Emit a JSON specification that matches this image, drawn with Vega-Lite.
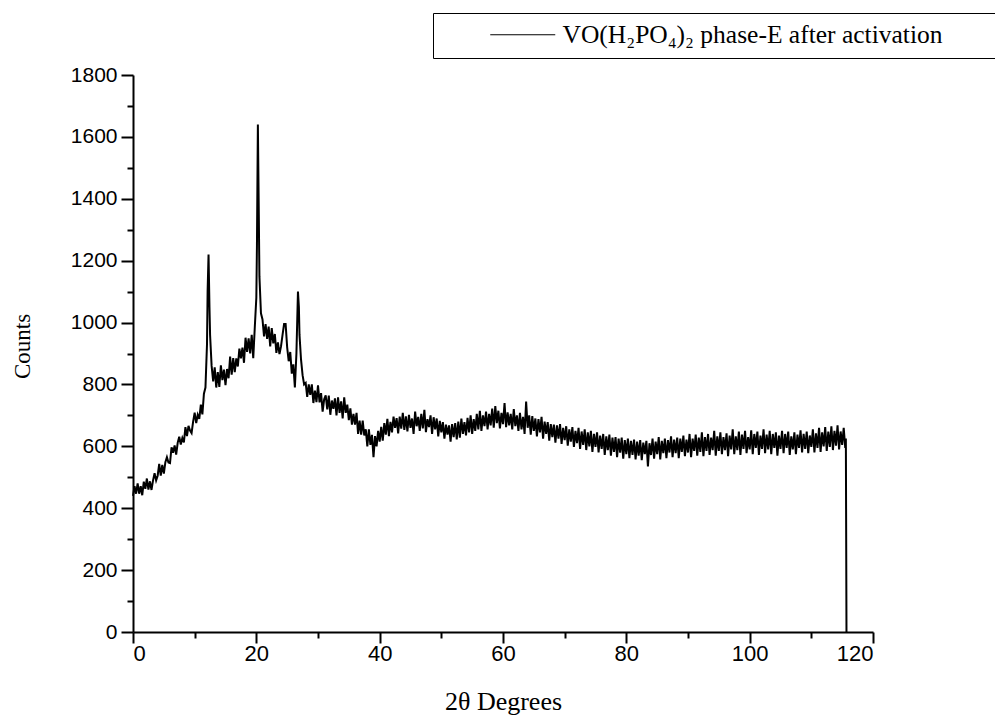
{
"$schema": "https://vega.github.io/schema/vega-lite/v6.json",
"width": 740, "height": 557,
"autosize": {"type": "none"},
"padding": {"left": 133, "top": 75, "right": 122, "bottom": 89},
"background": "white",
"config": {
  "view": {"stroke": null},
  "axis": {"domainColor": "black", "domainWidth": 2, "tickColor": "black", "tickWidth": 2, "labelColor": "black", "labelFont": "Liberation Sans", "labelFontSize": 21, "titleFont": "Liberation Serif", "titleFontWeight": "normal", "titleColor": "black", "grid": false}
},
"layer": [
{
"data": {"values": [
{"x":0,"y":440},{"x":0.25,"y":471},{"x":0.5,"y":447},{"x":0.75,"y":480},{"x":1,"y":447},{"x":1.25,"y":471},{"x":1.5,"y":442},{"x":1.75,"y":486},
{"x":2,"y":463},{"x":2.25,"y":496},{"x":2.5,"y":460},{"x":2.75,"y":487},{"x":3,"y":459},{"x":3.25,"y":490},{"x":3.5,"y":513},{"x":3.75,"y":490},
{"x":4,"y":505},{"x":4.25,"y":543},{"x":4.5,"y":505},{"x":4.75,"y":540},{"x":5,"y":512},{"x":5.25,"y":549},{"x":5.5,"y":565},{"x":5.75,"y":548},
{"x":6,"y":546},{"x":6.25,"y":597},{"x":6.5,"y":579},{"x":6.75,"y":603},{"x":7,"y":573},{"x":7.25,"y":612},{"x":7.5,"y":631},{"x":7.75,"y":606},
{"x":8,"y":627},{"x":8.25,"y":613},{"x":8.5,"y":662},{"x":8.75,"y":633},{"x":9,"y":666},{"x":9.25,"y":651},{"x":9.5,"y":643},{"x":9.75,"y":680},
{"x":10,"y":709},{"x":10.25,"y":675},{"x":10.5,"y":702},{"x":10.75,"y":689},{"x":11,"y":735},{"x":11.25,"y":703},{"x":11.5,"y":770},{"x":11.75,"y":790},
{"x":12,"y":930},{"x":12.1,"y":1100},{"x":12.25,"y":1220},{"x":12.4,"y":1050},{"x":12.5,"y":960},{"x":12.75,"y":860},
{"x":13,"y":810},{"x":13.25,"y":855},{"x":13.5,"y":790},{"x":13.75,"y":840},{"x":14,"y":792},{"x":14.25,"y":862},{"x":14.5,"y":814},{"x":14.75,"y":848},
{"x":15,"y":798},{"x":15.25,"y":850},{"x":15.5,"y":820},{"x":15.75,"y":890},{"x":16,"y":832},{"x":16.25,"y":885},{"x":16.5,"y":840},{"x":16.75,"y":884},
{"x":17,"y":858},{"x":17.25,"y":916},{"x":17.5,"y":884},{"x":17.75,"y":919},{"x":18,"y":870},{"x":18.25,"y":951},{"x":18.5,"y":905},{"x":18.75,"y":949},
{"x":19,"y":900},{"x":19.25,"y":960},{"x":19.5,"y":885},{"x":19.75,"y":985},{"x":20,"y":1080},{"x":20.1,"y":1250},{"x":20.25,"y":1640},{"x":20.4,"y":1350},{"x":20.5,"y":1150},{"x":20.75,"y":1030},
{"x":21,"y":1010},{"x":21.25,"y":955},{"x":21.5,"y":995},{"x":21.75,"y":947},{"x":22,"y":987},{"x":22.25,"y":923},{"x":22.5,"y":982},{"x":22.75,"y":933},
{"x":23,"y":963},{"x":23.25,"y":902},{"x":23.5,"y":936},{"x":23.75,"y":898},{"x":24,"y":923},{"x":24.25,"y":960},{"x":24.5,"y":995},{"x":24.75,"y":995},
{"x":25,"y":920},{"x":25.25,"y":875},{"x":25.5,"y":905},{"x":25.75,"y":835},{"x":26,"y":865},{"x":26.25,"y":790},{"x":26.5,"y":900},{"x":26.75,"y":1100},{"x":26.9,"y":1050},
{"x":27,"y":960},{"x":27.25,"y":880},{"x":27.5,"y":830},{"x":27.75,"y":800},{"x":28,"y":805},{"x":28.25,"y":760},{"x":28.5,"y":800},{"x":28.75,"y":766},
{"x":29,"y":800},{"x":29.25,"y":740},{"x":29.5,"y":780},{"x":29.75,"y":743},{"x":30,"y":797},{"x":30.25,"y":742},{"x":30.5,"y":772},{"x":30.75,"y":712},
{"x":31,"y":752},{"x":31.25,"y":765},{"x":31.5,"y":719},{"x":31.75,"y":764},{"x":32,"y":702},{"x":32.25,"y":748},{"x":32.5,"y":721},{"x":32.75,"y":755},
{"x":33,"y":700},{"x":33.25,"y":758},{"x":33.5,"y":708},{"x":33.75,"y":745},{"x":34,"y":690},{"x":34.25,"y":758},{"x":34.5,"y":708},{"x":34.75,"y":735},
{"x":35,"y":685},{"x":35.25,"y":723},{"x":35.5,"y":670},{"x":35.75,"y":705},{"x":36,"y":670},{"x":36.25,"y":708},{"x":36.5,"y":640},{"x":36.75,"y":683},
{"x":37,"y":638},{"x":37.25,"y":683},{"x":37.5,"y":635},{"x":37.75,"y":655},{"x":38,"y":600},{"x":38.25,"y":655},{"x":38.5,"y":605},{"x":38.75,"y":637},
{"x":39,"y":565},{"x":39.25,"y":633},{"x":39.5,"y":600},{"x":39.75,"y":650},{"x":40,"y":615},{"x":40.25,"y":663},{"x":40.5,"y":618},{"x":40.75,"y":675},
{"x":41,"y":638},{"x":41.25,"y":689},{"x":41.5,"y":633},{"x":41.75,"y":679},{"x":42,"y":645},{"x":42.25,"y":696},{"x":42.5,"y":660},{"x":42.75,"y":691},
{"x":43,"y":642},{"x":43.25,"y":696},{"x":43.5,"y":657},{"x":43.75,"y":708},{"x":44,"y":653},{"x":44.25,"y":697},{"x":44.5,"y":648},{"x":44.75,"y":702},
{"x":45,"y":660},{"x":45.25,"y":690},{"x":45.5,"y":640},{"x":45.75,"y":712},{"x":46,"y":665},{"x":46.25,"y":695},{"x":46.5,"y":650},{"x":46.75,"y":705},
{"x":47,"y":658},{"x":47.25,"y":718},{"x":47.5,"y":646},{"x":47.75,"y":688},{"x":48,"y":662},{"x":48.25,"y":700},{"x":48.5,"y":640},{"x":48.75,"y":694},
{"x":49,"y":655},{"x":49.25,"y":690},{"x":49.5,"y":632},{"x":49.75,"y":682},{"x":50,"y":645},{"x":50.25,"y":678},{"x":50.5,"y":625},{"x":50.75,"y":670},
{"x":51,"y":638},{"x":51.25,"y":668},{"x":51.5,"y":615},{"x":51.75,"y":672},{"x":52,"y":630},{"x":52.25,"y":675},{"x":52.5,"y":622},{"x":52.75,"y":680},
{"x":53,"y":628},{"x":53.25,"y":690},{"x":53.5,"y":640},{"x":53.75,"y":678},{"x":54,"y":635},{"x":54.25,"y":692},{"x":54.5,"y":645},{"x":54.75,"y":700},
{"x":55,"y":640},{"x":55.25,"y":688},{"x":55.5,"y":650},{"x":55.75,"y":705},{"x":56,"y":655},{"x":56.25,"y":715},{"x":56.5,"y":650},{"x":56.75,"y":700},
{"x":57,"y":665},{"x":57.25,"y":712},{"x":57.5,"y":655},{"x":57.75,"y":705},{"x":58,"y":668},{"x":58.25,"y":722},{"x":58.5,"y":660},{"x":58.75,"y":730},
{"x":59,"y":675},{"x":59.25,"y":715},{"x":59.5,"y":658},{"x":59.75,"y":708},{"x":60,"y":672},{"x":60.25,"y":740},{"x":60.5,"y":662},{"x":60.75,"y":710},
{"x":61,"y":668},{"x":61.25,"y":705},{"x":61.5,"y":655},{"x":61.75,"y":720},{"x":62,"y":665},{"x":62.25,"y":700},{"x":62.5,"y":650},{"x":62.75,"y":708},
{"x":63,"y":655},{"x":63.25,"y":695},{"x":63.5,"y":640},{"x":63.75,"y":745},{"x":64,"y":660},{"x":64.25,"y":700},{"x":64.5,"y":638},{"x":64.75,"y":698},
{"x":65,"y":650},{"x":65.25,"y":690},{"x":65.5,"y":632},{"x":65.75,"y":688},{"x":66,"y":645},{"x":66.25,"y":695},{"x":66.5,"y":625},{"x":66.75,"y":680},
{"x":67,"y":640},{"x":67.25,"y":678},{"x":67.5,"y":618},{"x":67.75,"y":672},{"x":68,"y":630},{"x":68.25,"y":670},{"x":68.5,"y":612},{"x":68.75,"y":668},
{"x":69,"y":625},{"x":69.25,"y":672},{"x":69.5,"y":608},{"x":69.75,"y":660},{"x":70,"y":620},{"x":70.25,"y":665},{"x":70.5,"y":602},{"x":70.75,"y":655},
{"x":71,"y":615},{"x":71.25,"y":662},{"x":71.5,"y":598},{"x":71.75,"y":650},{"x":72,"y":610},{"x":72.25,"y":660},{"x":72.5,"y":592},{"x":72.75,"y":648},
{"x":73,"y":605},{"x":73.25,"y":655},{"x":73.5,"y":588},{"x":73.75,"y":645},{"x":74,"y":600},{"x":74.25,"y":650},{"x":74.5,"y":582},{"x":74.75,"y":640},
{"x":75,"y":598},{"x":75.25,"y":645},{"x":75.5,"y":580},{"x":75.75,"y":635},{"x":76,"y":592},{"x":76.25,"y":640},{"x":76.5,"y":572},{"x":76.75,"y":632},
{"x":77,"y":588},{"x":77.25,"y":638},{"x":77.5,"y":570},{"x":77.75,"y":628},{"x":78,"y":582},{"x":78.25,"y":630},{"x":78.5,"y":565},{"x":78.75,"y":625},
{"x":79,"y":580},{"x":79.25,"y":628},{"x":79.5,"y":560},{"x":79.75,"y":620},{"x":80,"y":575},{"x":80.25,"y":625},{"x":80.5,"y":562},{"x":80.75,"y":618},
{"x":81,"y":572},{"x":81.25,"y":622},{"x":81.5,"y":558},{"x":81.75,"y":615},{"x":82,"y":570},{"x":82.25,"y":620},{"x":82.5,"y":555},{"x":82.75,"y":612},
{"x":83,"y":575},{"x":83.25,"y":618},{"x":83.5,"y":535},{"x":83.75,"y":610},{"x":84,"y":572},{"x":84.25,"y":625},{"x":84.5,"y":560},{"x":84.75,"y":615},
{"x":85,"y":575},{"x":85.25,"y":630},{"x":85.5,"y":558},{"x":85.75,"y":618},{"x":86,"y":578},{"x":86.25,"y":625},{"x":86.5,"y":562},{"x":86.75,"y":620},
{"x":87,"y":580},{"x":87.25,"y":632},{"x":87.5,"y":565},{"x":87.75,"y":622},{"x":88,"y":578},{"x":88.25,"y":628},{"x":88.5,"y":562},{"x":88.75,"y":625},
{"x":89,"y":582},{"x":89.25,"y":635},{"x":89.5,"y":568},{"x":89.75,"y":622},{"x":90,"y":580},{"x":90.25,"y":640},{"x":90.5,"y":565},{"x":90.75,"y":625},
{"x":91,"y":585},{"x":91.25,"y":638},{"x":91.5,"y":570},{"x":91.75,"y":628},{"x":92,"y":582},{"x":92.25,"y":645},{"x":92.5,"y":568},{"x":92.75,"y":630},
{"x":93,"y":585},{"x":93.25,"y":640},{"x":93.5,"y":572},{"x":93.75,"y":628},{"x":94,"y":588},{"x":94.25,"y":650},{"x":94.5,"y":570},{"x":94.75,"y":632},
{"x":95,"y":585},{"x":95.25,"y":645},{"x":95.5,"y":575},{"x":95.75,"y":630},{"x":96,"y":588},{"x":96.25,"y":642},{"x":96.5,"y":568},{"x":96.75,"y":635},
{"x":97,"y":590},{"x":97.25,"y":655},{"x":97.5,"y":575},{"x":97.75,"y":632},{"x":98,"y":588},{"x":98.25,"y":648},{"x":98.5,"y":572},{"x":98.75,"y":638},
{"x":99,"y":592},{"x":99.25,"y":650},{"x":99.5,"y":578},{"x":99.75,"y":630},{"x":100,"y":590},{"x":100.25,"y":652},{"x":100.5,"y":575},{"x":100.75,"y":640},
{"x":101,"y":595},{"x":101.25,"y":648},{"x":101.5,"y":572},{"x":101.75,"y":635},{"x":102,"y":592},{"x":102.25,"y":655},{"x":102.5,"y":578},{"x":102.75,"y":638},
{"x":103,"y":590},{"x":103.25,"y":650},{"x":103.5,"y":575},{"x":103.75,"y":640},{"x":104,"y":595},{"x":104.25,"y":645},{"x":104.5,"y":570},{"x":104.75,"y":635},
{"x":105,"y":592},{"x":105.25,"y":650},{"x":105.5,"y":578},{"x":105.75,"y":640},{"x":106,"y":595},{"x":106.25,"y":648},{"x":106.5,"y":572},{"x":106.75,"y":632},
{"x":107,"y":590},{"x":107.25,"y":645},{"x":107.5,"y":575},{"x":107.75,"y":638},{"x":108,"y":595},{"x":108.25,"y":652},{"x":108.5,"y":580},{"x":108.75,"y":640},
{"x":109,"y":592},{"x":109.25,"y":648},{"x":109.5,"y":578},{"x":109.75,"y":635},{"x":110,"y":598},{"x":110.25,"y":655},{"x":110.5,"y":580},{"x":110.75,"y":642},
{"x":111,"y":595},{"x":111.25,"y":660},{"x":111.5,"y":582},{"x":111.75,"y":645},{"x":112,"y":600},{"x":112.25,"y":662},{"x":112.5,"y":585},{"x":112.75,"y":648},
{"x":113,"y":598},{"x":113.25,"y":665},{"x":113.5,"y":588},{"x":113.75,"y":650},{"x":114,"y":602},{"x":114.25,"y":668},{"x":114.5,"y":590},{"x":114.75,"y":648},
{"x":115,"y":605},{"x":115.25,"y":660},{"x":115.5,"y":595},{"x":115.6,"y":625},{"x":115.7,"y":0}
]},
"mark": {"type": "line", "stroke": "black", "strokeWidth": 2},
"encoding": {
  "x": {"field": "x", "type": "quantitative", "scale": {"domain": [0, 120], "nice": false, "zero": false},
        "axis": {"title": "2θ Degrees", "values": [0,20,40,60,80,100,120], "tickSize": 11, "labelPadding": 0, "labelFontSize": 22, "titleFontSize": 26, "titlePadding": 24, "orient": "bottom"}},
  "y": {"field": "y", "type": "quantitative", "scale": {"domain": [0, 1800], "nice": false},
        "axis": {"title": "Counts", "format": "d", "values": [0,200,400,600,800,1000,1200,1400,1600,1800], "tickSize": 12, "labelPadding": 4, "titleFontSize": 23, "titlePadding": 36, "titleY": 271, "orient": "left"}},
  "color": {"datum": "VO(H₂PO₄)₂ phase-E after activation", "type": "nominal", "scale": {"range": ["black"]},
        "legend": {"title": null, "orient": "none", "legendX": 300, "legendY": -62, "strokeColor": "black", "padding": 9, "symbolType": "M-3.25,0H3.25", "symbolSize": 400, "symbolStrokeWidth": 1, "symbolOffset": 68, "labelFont": "Liberation Serif", "labelFontSize": 25.5, "labelColor": "black", "labelLimit": 1500, "labelOffset": 27, "labelExpr": "datum.label + '\u00a0\u00a0\u00a0\u00a0\u00a0\u2800'"}}
}
},
{
"data": {"values": [{"x": 0, "y": 0}]},
"mark": {"type": "point", "opacity": 0},
"encoding": {
  "x": {"field": "x", "type": "quantitative", "axis": {"values": [10,30,50,70,90,110], "labels": false, "domain": false, "tickSize": 6, "title": null, "orient": "bottom"}},
  "y": {"field": "y", "type": "quantitative", "axis": {"values": [100,300,500,700,900,1100,1300,1500,1700], "labels": false, "domain": false, "tickSize": 6, "title": null, "orient": "left"}}
}
}
],
"resolve": {"axis": {"x": "independent", "y": "independent"}}
}
